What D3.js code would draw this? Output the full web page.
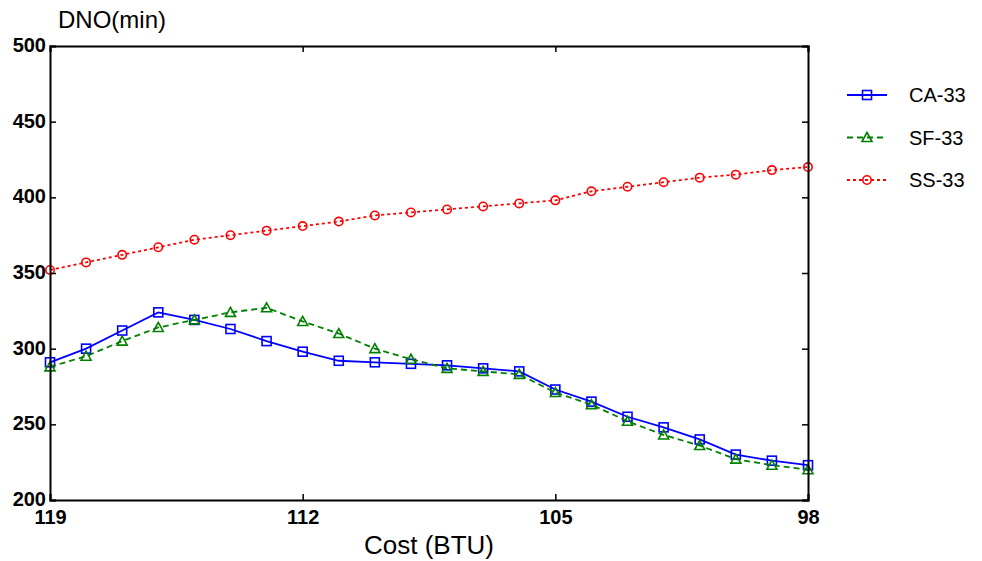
<!DOCTYPE html>
<html>
<head>
<meta charset="utf-8">
<script src="https://cdn.jsdelivr.net/npm/d3@7"></script>
<style>
  body { margin: 0; background: #fff; }
  svg { font-family: "Liberation Sans", Arial, sans-serif; }
</style>
</head>
<body>
<script>
// data
const cost = [119, 118, 117, 116, 115, 114, 113, 112, 111, 110, 109, 108, 107, 106, 105, 104, 103, 102, 101, 100, 99, 98];
const ca33 = [291, 300, 312, 324, 319, 313, 305, 298, 292, 291, 290, 289, 287, 285, 273, 265, 255, 248, 240, 230, 226, 223];
const sf33 = [288, 295, 305, 314, 319, 324, 327, 318, 310, 300, 293, 287, 285, 283, 271, 263, 252, 243, 236, 227, 223, 220];
const ss33 = [352, 357, 362, 367, 372, 375, 378, 381, 384, 388, 390, 392, 394, 396, 398, 404, 407, 410, 413, 415, 418, 420];
const xTicks = [119, 112, 105, 98];
const yTicks = [200, 250, 300, 350, 400, 450, 500];

const series = [
  { name: "CA-33", values: ca33, color: "#0000ff", dash: null, marker: "square" },
  { name: "SF-33", values: sf33, color: "#008000", dash: "6,4", marker: "triangle" },
  { name: "SS-33", values: ss33, color: "#ff0000", dash: "3,3", marker: "circle" }
];

const width = 982, height = 561;
const margin = { top: 46, right: 174, bottom: 61, left: 50 };

const svg = d3.select("body").append("svg")
  .attr("width", width)
  .attr("height", height);

const x = d3.scaleLinear().domain([119, 98]).range([margin.left, width - margin.right]);
const y = d3.scaleLinear().domain([200, 500]).range([height - margin.bottom, margin.top]);

// marker drawing
function drawMarker(g, type, cx, cy, color) {
  if (type === "square") {
    g.append("rect").attr("x", cx - 4.5).attr("y", cy - 4.5).attr("width", 9).attr("height", 9)
      .attr("fill", "none").attr("stroke", color).attr("stroke-width", 1.6);
  } else if (type === "triangle") {
    g.append("path").attr("d", `M${cx},${cy - 5}L${cx + 5},${cy + 4}L${cx - 5},${cy + 4}Z`)
      .attr("fill", "none").attr("stroke", color).attr("stroke-width", 1.6);
  } else {
    g.append("circle").attr("cx", cx).attr("cy", cy).attr("r", 4.2)
      .attr("fill", "none").attr("stroke", color).attr("stroke-width", 1.6);
  }
}

// lines and markers
const line = d3.line().x(d => x(d[0])).y(d => y(d[1]));
series.forEach(s => {
  const pts = cost.map((c, i) => [c, s.values[i]]);
  svg.append("path")
    .datum(pts)
    .attr("d", line)
    .attr("fill", "none")
    .attr("stroke", s.color)
    .attr("stroke-width", 1.8)
    .attr("stroke-dasharray", s.dash);
  const mg = svg.append("g");
  pts.forEach(p => drawMarker(mg, s.marker, x(p[0]), y(p[1]), s.color));
});

// axes: box with inward ticks
const x0 = margin.left, x1 = width - margin.right;
const y0 = height - margin.bottom, y1 = margin.top;

svg.append("g")
  .attr("transform", `translate(0,${y0})`)
  .call(d3.axisBottom(x).tickValues(xTicks).tickSize(-6).tickPadding(10).tickFormat(d3.format("d")))
  .call(g => g.selectAll("text").attr("font-size", 20).attr("font-weight", "bold").attr("fill", "#000"));

svg.append("g")
  .attr("transform", `translate(0,${y1})`)
  .call(d3.axisTop(x).tickValues(xTicks).tickSize(-6).tickFormat(""));

svg.append("g")
  .attr("transform", `translate(${x0},0)`)
  .call(d3.axisLeft(y).tickValues(yTicks).tickSize(-6).tickPadding(4))
  .call(g => g.selectAll("text").attr("font-size", 20).attr("font-weight", "bold").attr("fill", "#000").attr("dy", "0.28em"));

svg.append("g")
  .attr("transform", `translate(${x1},0)`)
  .call(d3.axisRight(y).tickValues(yTicks).tickSize(-6).tickFormat(""));

svg.selectAll(".domain").attr("stroke", "#000").attr("stroke-width", 2);
svg.selectAll(".tick line").attr("stroke", "#000").attr("stroke-width", 1.5);

// labels
svg.append("text")
  .attr("x", 58).attr("y", 28)
  .attr("font-size", 24)
  .text("DNO(min)");

svg.append("text")
  .attr("x", (x0 + x1) / 2).attr("y", 554)
  .attr("text-anchor", "middle")
  .attr("font-size", 26)
  .text("Cost (BTU)");

// legend
const legend = svg.append("g");
series.forEach((s, i) => {
  const ly = 95 + i * 42.5;
  legend.append("line")
    .attr("x1", 847).attr("x2", 887).attr("y1", ly).attr("y2", ly)
    .attr("stroke", s.color).attr("stroke-width", 1.8)
    .attr("stroke-dasharray", s.dash);
  drawMarker(legend, s.marker, 867, ly, s.color);
  legend.append("text")
    .attr("x", 909).attr("y", ly + 7)
    .attr("font-size", 20)
    .text(s.name);
});
</script>
</body>
</html>
